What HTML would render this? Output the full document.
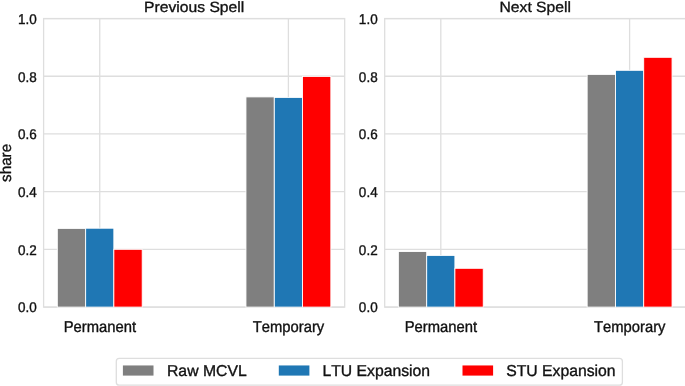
<!DOCTYPE html>
<html><head><meta charset="utf-8"><title>chart</title><style>html,body{margin:0;padding:0;background:#fff}
svg{display:block;font-family:"Liberation Sans",Arial,sans-serif}
text{fill:#111;stroke:#111;stroke-width:0.35px;font-kerning:none;text-rendering:geometricPrecision}</style></head><body>
<svg width="685" height="386" viewBox="0 0 685 386">
<rect width="685" height="386" fill="#fff"/>
<line x1="43.6" x2="344.7" y1="307.10" y2="307.10" stroke="#dedede" stroke-width="1.3"/>
<line x1="43.6" x2="344.7" y1="249.39" y2="249.39" stroke="#dedede" stroke-width="1.3"/>
<line x1="43.6" x2="344.7" y1="191.68" y2="191.68" stroke="#dedede" stroke-width="1.3"/>
<line x1="43.6" x2="344.7" y1="133.97" y2="133.97" stroke="#dedede" stroke-width="1.3"/>
<line x1="43.6" x2="344.7" y1="76.26" y2="76.26" stroke="#dedede" stroke-width="1.3"/>
<line x1="43.6" x2="344.7" y1="18.55" y2="18.55" stroke="#dedede" stroke-width="1.3"/>
<line x1="99.75" x2="99.75" y1="18.55" y2="307.1" stroke="#dedede" stroke-width="1.3"/>
<line x1="288.4" x2="288.4" y1="18.55" y2="307.1" stroke="#dedede" stroke-width="1.3"/>
<rect x="43.6" y="18.55" width="301.10" height="288.55" fill="none" stroke="#dedede" stroke-width="1.3"/>
<rect x="57.30" y="228.40" width="28.35" height="78.70" fill="#7f7f7f" stroke="#fff" stroke-width="0.9"/>
<rect x="85.65" y="228.20" width="28.20" height="78.90" fill="#1f77b4" stroke="#fff" stroke-width="0.9"/>
<rect x="113.85" y="249.30" width="28.35" height="57.80" fill="#ff0000" stroke="#fff" stroke-width="0.9"/>
<rect x="245.95" y="96.90" width="28.35" height="210.20" fill="#7f7f7f" stroke="#fff" stroke-width="0.9"/>
<rect x="274.30" y="97.40" width="28.20" height="209.70" fill="#1f77b4" stroke="#fff" stroke-width="0.9"/>
<rect x="302.50" y="76.40" width="28.35" height="230.70" fill="#ff0000" stroke="#fff" stroke-width="0.9"/>
<text transform="translate(36.80,312.40) scale(1.0,1.045)" font-size="13.5" text-anchor="end">0.0</text>
<text transform="translate(36.80,254.69) scale(1.0,1.045)" font-size="13.5" text-anchor="end">0.2</text>
<text transform="translate(36.80,196.98) scale(1.0,1.045)" font-size="13.5" text-anchor="end">0.4</text>
<text transform="translate(36.80,139.27) scale(1.0,1.045)" font-size="13.5" text-anchor="end">0.6</text>
<text transform="translate(36.80,81.56) scale(1.0,1.045)" font-size="13.5" text-anchor="end">0.8</text>
<text transform="translate(36.80,23.85) scale(1.0,1.045)" font-size="13.5" text-anchor="end">1.0</text>
<text transform="translate(99.85,332.00) scale(1.0,1.06)" font-size="14.8" text-anchor="middle">Permanent</text>
<text transform="translate(288.50,332.00) scale(1.0,1.06)" font-size="14.8" text-anchor="middle">Temporary</text>
<text transform="translate(194.15,12.20) scale(1.0,0.945)" font-size="15.7" text-anchor="middle">Previous Spell</text>
<line x1="384.7" x2="685.8" y1="307.10" y2="307.10" stroke="#dedede" stroke-width="1.3"/>
<line x1="384.7" x2="685.8" y1="249.39" y2="249.39" stroke="#dedede" stroke-width="1.3"/>
<line x1="384.7" x2="685.8" y1="191.68" y2="191.68" stroke="#dedede" stroke-width="1.3"/>
<line x1="384.7" x2="685.8" y1="133.97" y2="133.97" stroke="#dedede" stroke-width="1.3"/>
<line x1="384.7" x2="685.8" y1="76.26" y2="76.26" stroke="#dedede" stroke-width="1.3"/>
<line x1="384.7" x2="685.8" y1="18.55" y2="18.55" stroke="#dedede" stroke-width="1.3"/>
<line x1="440.8" x2="440.8" y1="18.55" y2="307.1" stroke="#dedede" stroke-width="1.3"/>
<line x1="629.6" x2="629.6" y1="18.55" y2="307.1" stroke="#dedede" stroke-width="1.3"/>
<rect x="384.7" y="18.55" width="301.10" height="288.55" fill="none" stroke="#dedede" stroke-width="1.3"/>
<rect x="398.35" y="251.50" width="28.35" height="55.60" fill="#7f7f7f" stroke="#fff" stroke-width="0.9"/>
<rect x="426.70" y="255.40" width="28.20" height="51.70" fill="#1f77b4" stroke="#fff" stroke-width="0.9"/>
<rect x="454.90" y="268.30" width="28.35" height="38.80" fill="#ff0000" stroke="#fff" stroke-width="0.9"/>
<rect x="587.15" y="74.40" width="28.35" height="232.70" fill="#7f7f7f" stroke="#fff" stroke-width="0.9"/>
<rect x="615.50" y="70.30" width="28.20" height="236.80" fill="#1f77b4" stroke="#fff" stroke-width="0.9"/>
<rect x="643.70" y="57.30" width="28.35" height="249.80" fill="#ff0000" stroke="#fff" stroke-width="0.9"/>
<text transform="translate(377.65,312.40) scale(1.0,1.045)" font-size="13.5" text-anchor="end">0.0</text>
<text transform="translate(377.65,254.69) scale(1.0,1.045)" font-size="13.5" text-anchor="end">0.2</text>
<text transform="translate(377.65,196.98) scale(1.0,1.045)" font-size="13.5" text-anchor="end">0.4</text>
<text transform="translate(377.65,139.27) scale(1.0,1.045)" font-size="13.5" text-anchor="end">0.6</text>
<text transform="translate(377.65,81.56) scale(1.0,1.045)" font-size="13.5" text-anchor="end">0.8</text>
<text transform="translate(377.65,23.85) scale(1.0,1.045)" font-size="13.5" text-anchor="end">1.0</text>
<text transform="translate(440.90,332.00) scale(1.0,1.06)" font-size="14.8" text-anchor="middle">Permanent</text>
<text transform="translate(629.70,332.00) scale(1.0,1.06)" font-size="14.8" text-anchor="middle">Temporary</text>
<text transform="translate(535.25,12.20) scale(1.0,0.945)" font-size="15.7" text-anchor="middle">Next Spell</text>
<text transform="translate(11.40,162.90) rotate(-90)" font-size="15.28" text-anchor="middle">share</text>
<rect x="116.3" y="358.3" width="506.1" height="26.9" rx="3" ry="3" fill="#fff" stroke="#dedede" stroke-width="1.3"/>
<rect x="122.9" y="365.45" width="30.6" height="10.15" fill="#7f7f7f"/>
<text transform="translate(167.00,375.50)" font-size="15.75">Raw MCVL</text>
<rect x="278.8" y="365.45" width="30.6" height="10.15" fill="#1f77b4"/>
<text transform="translate(322.40,375.50)" font-size="15.75">LTU Expansion</text>
<rect x="462.5" y="365.45" width="30.6" height="10.15" fill="#ff0000"/>
<text transform="translate(506.20,375.50)" font-size="15.75">STU Expansion</text>
</svg>
</body></html>
